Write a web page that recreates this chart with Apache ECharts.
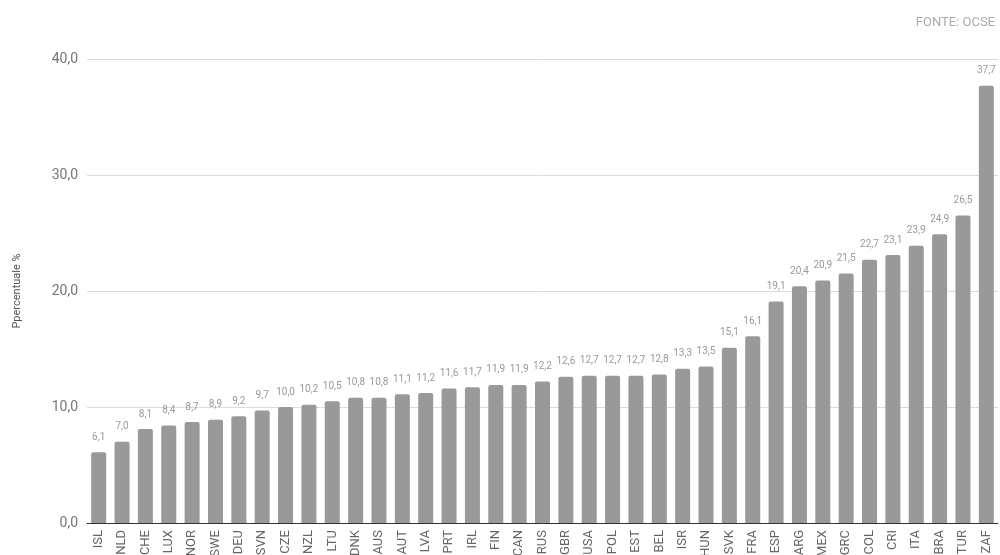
<!DOCTYPE html>
<html><head><meta charset="utf-8">
<script src="https://cdn.jsdelivr.net/npm/echarts@6/dist/echarts.min.js"></script>
<style>html,body{margin:0;padding:0;background:#fff}#c{width:1000px;height:555px}</style>
</head><body><div id="c"></div>
<script>
const categories = ['ISL','NLD','CHE','LUX','NOR','SWE','DEU','SVN','CZE','NZL','LTU','DNK','AUS','AUT','LVA','PRT','IRL','FIN','CAN','RUS','GBR','USA','POL','EST','BEL','ISR','HUN','SVK','FRA','ESP','ARG','MEX','GRC','COL','CRI','ITA','BRA','TUR','ZAF'];
const values = [6.1,7.0,8.1,8.4,8.7,8.9,9.2,9.7,10.0,10.2,10.5,10.8,10.8,11.1,11.2,11.6,11.7,11.9,11.9,12.2,12.6,12.7,12.7,12.7,12.8,13.3,13.5,15.1,16.1,19.1,20.4,20.9,21.5,22.7,23.1,23.9,24.9,26.5,37.7];
const fmt = v => v.toFixed(1).replace('.', ',');
const chart = echarts.init(document.getElementById('c'));
chart.setOption({
  animation:false,
  textStyle:{fontFamily:'Roboto'},
  title:{text:'FONTE: OCSE', right:0, top:11, textStyle:{fontSize:13, fontWeight:'normal', color:'#aaaaaa', fontFamily:'Roboto'}},
  grid:{left:87, right:2, top:59, bottom:32, outerBoundsMode:'none', containLabel:false},
  xAxis:{type:'category', data:categories,
    axisLine:{lineStyle:{color:'#333', width:1}}, axisTick:{show:false},
    axisLabel:{rotate:90, interval:0, color:'#666', fontSize:13, margin:7, fontFamily:'Roboto'}},
  yAxis:{type:'value', min:0, max:40, interval:10,
    name:'Ppercentuale %', nameLocation:'middle', nameGap:64, nameTextStyle:{color:'#555', fontSize:11, fontFamily:'Roboto'},
    axisLabel:{formatter:fmt, color:'#777', fontSize:14, margin:9, fontFamily:'Roboto'},
    splitLine:{lineStyle:{color:'#dcdcdc'}}, axisLine:{show:false}, axisTick:{show:false}},
  series:[{type:'bar', data:values, barWidth:15, itemStyle:{color:'#999999', borderRadius:[2,2,0,0]},
    label:{show:true, position:'top', distance:10, formatter:p=>fmt(p.value), color:'#999', fontSize:10, fontFamily:'Roboto'}}]
});
</script></body></html>
